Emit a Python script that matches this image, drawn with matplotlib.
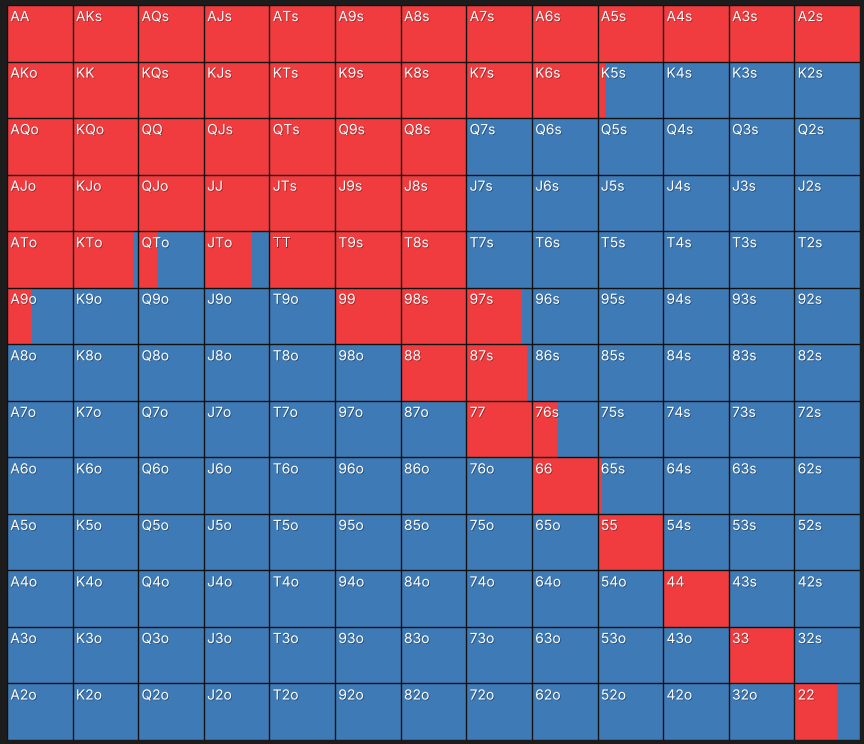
import matplotlib
matplotlib.use("Agg")
from matplotlib import pyplot as plt
from matplotlib import patheffects

ranks = ["A", "K", "Q", "J", "T", "9", "8", "7", "6", "5", "4", "3", "2"]

# red share of each cell (raise), rest is blue
raise_freq = [
    [1, 1, 1, 1, 1, 1, 1, 1, 1, 1, 1, 1, 1],
    [1, 1, 1, 1, 1, 1, 1, 1, 1, 0.12, 0, 0, 0],
    [1, 1, 1, 1, 1, 1, 1, 0, 0, 0, 0, 0, 0],
    [1, 1, 1, 1, 1, 1, 1, 0, 0, 0, 0, 0, 0],
    [1, 0.94, 0.30, 0.74, 1, 1, 1, 0, 0, 0, 0, 0, 0],
    [0.38, 0, 0, 0, 0, 1, 1, 0.85, 0, 0, 0, 0, 0],
    [0, 0, 0, 0, 0, 0, 1, 0.92, 0, 0, 0, 0, 0],
    [0, 0, 0, 0, 0, 0, 0, 1, 0.40, 0, 0, 0, 0],
    [0, 0, 0, 0, 0, 0, 0, 0, 1, 0.065, 0, 0, 0],
    [0, 0, 0, 0, 0, 0, 0, 0, 0, 1, 0, 0, 0],
    [0, 0, 0, 0, 0, 0, 0, 0, 0, 0, 1, 0, 0],
    [0, 0, 0, 0, 0, 0, 0, 0, 0, 0, 0, 1, 0],
    [0, 0, 0, 0, 0, 0, 0, 0, 0, 0, 0, 0, 0.65],
]

RED = "#f13c3f"
BLUE = "#3e7bb6"
BG = "#1c1c1c"

fig = plt.figure(figsize=(8.64, 7.44), dpi=100, facecolor=BG)
ax = fig.add_axes([7 / 864, 1 - 740 / 744, 853 / 864, 735 / 744])
ax.set_facecolor(BLUE)

shadow = [patheffects.withSimplePatchShadow(offset=(0.6, -0.6), shadow_rgbFace="black", alpha=0.35)]

n = len(ranks)
for i in range(n):
    for j in range(n):
        # blue base then red part from the left
        ax.bar(j, 1, width=1, bottom=i, align="edge", color=BLUE, linewidth=0)
        f = raise_freq[i][j]
        if f > 0:
            ax.bar(j, 1, width=f, bottom=i, align="edge", color=RED, linewidth=0)
        if i == j:
            lab = ranks[i] + ranks[j]
        elif j > i:
            lab = ranks[i] + ranks[j] + "s"
        else:
            lab = ranks[j] + ranks[i] + "o"
        ax.text(j + 0.05, i + 0.09, lab, color="white", fontsize=10,
                family=["Inter", "DejaVu Sans"], va="top", ha="left",
                path_effects=shadow)

# cell borders
for k in range(n + 1):
    ax.axvline(k, color="#111111", lw=1.0)
    ax.axhline(k, color="#111111", lw=1.0)

ax.set_xlim(0, n)
ax.set_ylim(n, 0)
ax.set_xticks([])
ax.set_yticks([])
for s in ax.spines.values():
    s.set_visible(False)

fig.savefig("out.png", dpi=100, facecolor=BG)
